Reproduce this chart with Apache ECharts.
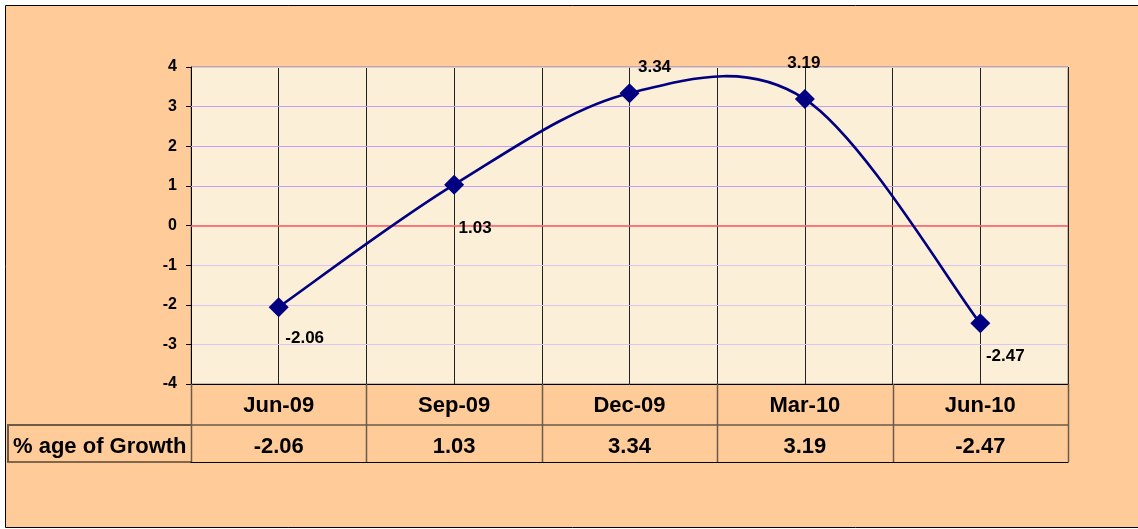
<!DOCTYPE html>
<html>
<head>
<meta charset="utf-8">
<title>% age of Growth</title>
<script src="https://cdn.jsdelivr.net/npm/echarts@6/dist/echarts.min.js"></script>
<style>
  html, body { margin: 0; padding: 0; background: #ffffff; }
  #chart { width: 1138px; height: 529px; }
</style>
</head>
<body>
<div id="chart"></div>
<script>
// Quarterly growth figures
const categories = ['Jun-09', 'Sep-09', 'Dec-09', 'Mar-10', 'Jun-10'];
const growth = [-2.06, 1.03, 3.34, 3.19, -2.47];
const seriesName = '% age of Growth';
const yTicks = [-4, -3, -2, -1, 0, 1, 2, 3, 4];

// Where each point's value label sits relative to its marker
const labelOffsets = [[26, 31], [21, 44], [25, -26], [-1, -36], [25, 33]];

const FONT = '"Liberation Sans", Arial, sans-serif';
const TABLE_LINE = '#6b5a48';
const NAVY = '#000080';
const NEG_GRID = '#dcc4f0';
const POS_GRID = '#c49cff';
const ZERO_LINE = '#ff5a5a';

const chart = echarts.init(document.getElementById('chart'), null, { renderer: 'canvas' });

// Smoothed curve segment between point i and i+1 (cardinal spline, tension 1/6)
function renderSegment(params, api) {
  const i = params.dataIndex;
  const n = growth.length;
  if (i >= n - 1) return null;
  const clampIdx = j => Math.max(0, Math.min(n - 1, j));
  const pt = j => api.coord([clampIdx(j), growth[clampIdx(j)]]);
  const p0 = pt(i - 1), p1 = pt(i), p2 = pt(i + 1), p3 = pt(i + 2);
  return {
    type: 'bezierCurve',
    shape: {
      x1: p1[0], y1: p1[1],
      cpx1: p1[0] + (p2[0] - p0[0]) / 6, cpy1: p1[1] + (p2[1] - p0[1]) / 6,
      cpx2: p2[0] - (p3[0] - p1[0]) / 6, cpy2: p2[1] - (p3[1] - p1[1]) / 6,
      x2: p2[0], y2: p2[1]
    },
    style: { stroke: NAVY, lineWidth: 2.6, fill: null, lineCap: 'round' }
  };
}

// Emphasised horizontal rules: zero in red, positive ticks in purple
const ruleData = yTicks
  .filter(t => t >= 0 && t < yTicks[yTicks.length - 1])
  .map(t => ({
    yAxis: t,
    lineStyle: t === 0
      ? { color: ZERO_LINE, width: 1.6, type: 'solid' }
      : { color: POS_GRID, width: 1, type: 'solid' }
  }));

const option = {
  backgroundColor: '#ffffff',
  animation: false,
  textStyle: { fontFamily: FONT },
  grid: {
    left: 191, top: 67, right: 70, bottom: 145,
    show: true, backgroundColor: '#fcefd8',
    borderColor: '#888888', borderWidth: 1
  },
  xAxis: [
    {
      // category header row of the data table
      type: 'category', data: categories, boundaryGap: true,
      axisLine: { show: true, onZero: false, lineStyle: { color: '#000000', width: 1 } },
      axisTick: { show: false },
      axisLabel: { interval: 0, margin: 11, color: '#000000', fontSize: 22, fontWeight: 'bold', fontFamily: FONT },
      splitLine: { show: false }, z: 5
    },
    {
      // value row of the data table
      type: 'category', data: categories, boundaryGap: true, position: 'bottom', offset: 41,
      axisLine: { show: true, onZero: false, lineStyle: { color: TABLE_LINE, width: 1.5 } },
      axisTick: { show: false },
      axisLabel: {
        interval: 0, margin: 11, color: '#000000', fontSize: 22, fontWeight: 'bold', fontFamily: FONT,
        formatter: (v, i) => growth[i].toFixed(2)
      },
      splitLine: { show: false }
    },
    {
      // bottom edge of the data table
      type: 'category', data: categories, boundaryGap: true, position: 'bottom', offset: 78,
      axisLine: { show: true, onZero: false, lineStyle: { color: '#000000', width: 1.2 } },
      axisTick: { show: false }, axisLabel: { show: false }, splitLine: { show: false }
    },
    {
      // vertical rules at every half category
      type: 'value', min: 0, max: 2 * categories.length, interval: 1, position: 'top',
      axisLine: { show: false, onZero: false }, axisTick: { show: false }, axisLabel: { show: false },
      splitLine: { show: true, lineStyle: { color: '#222222', width: 1 } }
    }
  ],
  yAxis: {
    type: 'value', min: yTicks[0], max: yTicks[yTicks.length - 1], interval: 1,
    axisLine: { show: true, onZero: false, lineStyle: { color: '#000000', width: 1 } },
    axisTick: { show: true, length: 5, lineStyle: { color: '#000000' } },
    axisLabel: { margin: 14, color: '#000000', fontSize: 16, fontWeight: 'bold', fontFamily: FONT },
    splitLine: { show: true, lineStyle: { color: NEG_GRID, width: 1 } },
    z: 4
  },
  series: [
    {
      name: seriesName,
      type: 'custom',
      xAxisIndex: 0,
      renderItem: renderSegment,
      data: growth.map((v, i) => [i, v]),
      encode: { x: 0, y: 1 },
      markLine: {
        silent: true, symbol: 'none', animation: false,
        label: { show: false },
        emphasis: { disabled: true },
        data: ruleData
      },
      z: 9
    },
    {
      name: seriesName,
      type: 'scatter',
      xAxisIndex: 0,
      data: growth.map((v, i) => ({
        value: [i, v],
        label: { offset: labelOffsets[i] }
      })),
      symbol: 'diamond',
      symbolSize: 20,
      itemStyle: { color: NAVY, opacity: 1 },
      label: {
        show: true, position: 'inside',
        color: '#000000', fontSize: 17, fontWeight: 'bold', fontFamily: FONT,
        formatter: p => p.value[1].toFixed(2)
      },
      emphasis: { disabled: true },
      z: 10
    }
  ],
  graphic: [
    // chart frame
    { type: 'rect', z: -100, silent: true,
      shape: { x: 5.5, y: 5.5, width: 1140, height: 522 },
      style: { fill: '#ffcc99', stroke: '#000000', lineWidth: 1 } }
  ]
};

chart.setOption(option);

// Data table rules: cell borders at every category boundary, plus the legend cell
const gridRect = chart.getModel().getComponent('grid', 0).coordinateSystem.getRect();
const tableTop = gridRect.y + gridRect.height;
const rowMid = tableTop + 41;
const tableBottom = tableTop + 78;
const tableLines = [];
for (let k = 0; k <= categories.length; k++) {
  const x = Math.round(chart.convertToPixel({ xAxisIndex: 3 }, 2 * k)) + 0.5;
  tableLines.push({ type: 'line', z: 50, silent: true,
    shape: { x1: x, y1: tableTop, x2: x, y2: tableBottom },
    style: { stroke: TABLE_LINE, lineWidth: 1.5 } });
}
const legendLeft = 8;
tableLines.push(
  { type: 'line', z: 50, silent: true, shape: { x1: legendLeft - 1, y1: rowMid, x2: gridRect.x, y2: rowMid }, style: { stroke: TABLE_LINE, lineWidth: 2 } },
  { type: 'line', z: 50, silent: true, shape: { x1: legendLeft - 1, y1: tableBottom, x2: gridRect.x, y2: tableBottom }, style: { stroke: '#000000', lineWidth: 1.2 } },
  { type: 'line', z: 50, silent: true, shape: { x1: legendLeft, y1: rowMid - 1, x2: legendLeft, y2: tableBottom }, style: { stroke: TABLE_LINE, lineWidth: 2 } },
  { type: 'text', z: 50, silent: true, x: 13, y: (rowMid + tableBottom) / 2 + 3,
    style: { text: seriesName, fill: '#000000', font: 'bold 22px ' + FONT, textVerticalAlign: 'middle', verticalAlign: 'middle' } }
);
chart.setOption({ graphic: option.graphic.concat(tableLines) }, { replaceMerge: ['graphic'] });
</script>
</body>
</html>
